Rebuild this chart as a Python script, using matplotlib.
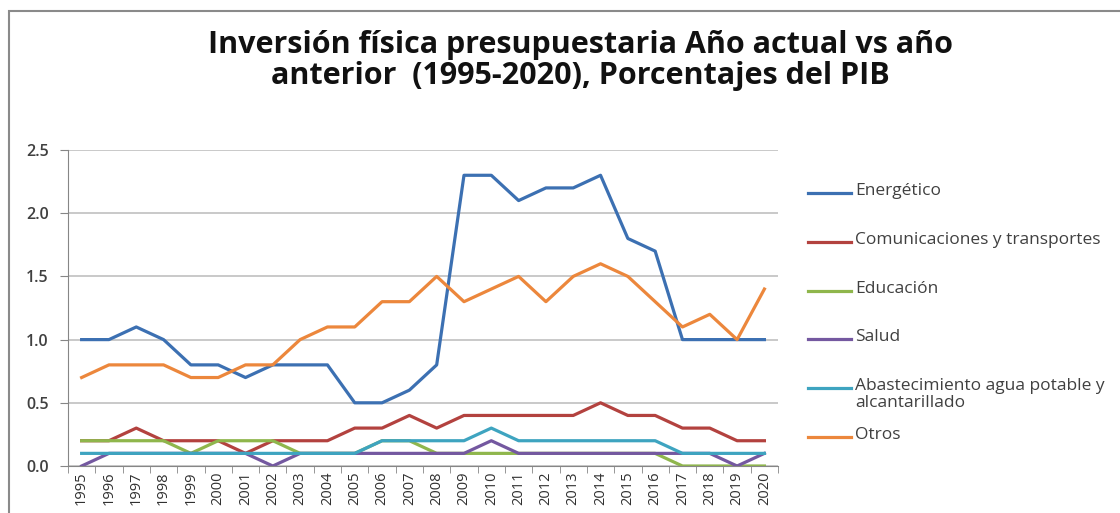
import matplotlib
matplotlib.use("Agg")
import matplotlib.pyplot as plt
from matplotlib.patches import Rectangle
from matplotlib.lines import Line2D

# Data (porcentajes del PIB)
years = [str(y) for y in range(1995, 2021)]

energetico = [1.0, 1.0, 1.1, 1.0, 0.8, 0.8, 0.7, 0.8, 0.8, 0.8, 0.5, 0.5, 0.6,
              0.8, 2.3, 2.3, 2.1, 2.2, 2.2, 2.3, 1.8, 1.7, 1.0, 1.0, 1.0, 1.0]
comunicaciones = [0.2, 0.2, 0.3, 0.2, 0.2, 0.2, 0.1, 0.2, 0.2, 0.2, 0.3, 0.3, 0.4,
                  0.3, 0.4, 0.4, 0.4, 0.4, 0.4, 0.5, 0.4, 0.4, 0.3, 0.3, 0.2, 0.2]
educacion = [0.2, 0.2, 0.2, 0.2, 0.1, 0.2, 0.2, 0.2, 0.1, 0.1, 0.1, 0.2, 0.2,
             0.1, 0.1, 0.1, 0.1, 0.1, 0.1, 0.1, 0.1, 0.1, 0.0, 0.0, 0.0, 0.0]
salud = [0.0, 0.1, 0.1, 0.1, 0.1, 0.1, 0.1, 0.0, 0.1, 0.1, 0.1, 0.1, 0.1,
         0.1, 0.1, 0.2, 0.1, 0.1, 0.1, 0.1, 0.1, 0.1, 0.1, 0.1, 0.0, 0.1]
agua = [0.1, 0.1, 0.1, 0.1, 0.1, 0.1, 0.1, 0.1, 0.1, 0.1, 0.1, 0.2, 0.2,
        0.2, 0.2, 0.3, 0.2, 0.2, 0.2, 0.2, 0.2, 0.2, 0.1, 0.1, 0.1, 0.1]
otros = [0.7, 0.8, 0.8, 0.8, 0.7, 0.7, 0.8, 0.8, 1.0, 1.1, 1.1, 1.3, 1.3,
         1.5, 1.3, 1.4, 1.5, 1.3, 1.5, 1.6, 1.5, 1.3, 1.1, 1.2, 1.0, 1.4]

series = [
    ("Energético", energetico, "#3c70b2"),
    ("Comunicaciones y transportes", comunicaciones, "#b3423f"),
    ("Educación", educacion, "#8fb64c"),
    ("Salud", salud, "#7458a0"),
    ("Abastecimiento agua potable y\nalcantarillado", agua, "#3ea4c0"),
    ("Otros", otros, "#ec873c"),
]

plt.rcParams["font.family"] = ["Open Sans", "DejaVu Sans"]
text_grey = "#404040"
W, H = 1120, 513

fig = plt.figure(figsize=(11.2, 5.13), dpi=100)

# outer chart border (cropped at right and bottom in the reference)
fig.patches.append(Rectangle((9 / W, -0.1), 1.2, 1 - 11 / H + 0.1,
                             transform=fig.transFigure, fill=False,
                             edgecolor="#8a8a8a", linewidth=1.5))

ax = fig.add_axes([0.0607, 0.0916, 0.634, 0.616])

x = list(range(len(years)))
for label, vals, color in series:
    ax.plot(x, vals, color=color, linewidth=2.3, label=label,
            solid_joinstyle="round")

ax.set_xlim(-0.5, len(years) - 0.5)
ax.set_ylim(0, 2.5)
ax.set_yticks([0, 0.5, 1.0, 1.5, 2.0, 2.5])
ax.set_yticklabels(["0.0", "0.5", "1.0", "1.5", "2.0", "2.5"], fontsize=11.5,
                   color=text_grey, fontweight="semibold")

ax.set_xticks(x)
ax.set_xticklabels(years, rotation=90, fontsize=10.5, color="#303030")
ax.set_xticks([i - 0.5 for i in range(len(years) + 1)], minor=True)
ax.tick_params(axis="x", which="major", length=0, pad=4)
ax.tick_params(axis="x", which="minor", length=5, color="#868686")
ax.tick_params(axis="y", length=6, color="#868686", pad=8)

ax.grid(axis="y", color="#c0c0c0", linewidth=1.2)
ax.set_axisbelow(True)
for side in ["top", "right"]:
    ax.spines[side].set_visible(False)
ax.spines["left"].set_color("#868686")
ax.spines["bottom"].set_color("#868686")

fig.text(0.518, 0.882, "Inversión física presupuestaria Año actual vs año\n"
         "anterior  (1995-2020), Porcentajes del PIB",
         ha="center", va="center", fontsize=22, fontweight="bold",
         linespacing=1.08, color="#111111")

# legend drawn Excel-style: marker aligned with the first line of each label
leg_top, leg_step = 193, 48.8
for i, (label, vals, color) in enumerate(series):
    yc = 1 - (leg_top + i * leg_step) / H
    fig.add_artist(Line2D([808 / W, 851 / W], [yc, yc], color=color,
                          linewidth=2.3, transform=fig.transFigure))
    fig.text(855 / W, yc + 10 / H, label, ha="left", va="top", fontsize=12.5,
             color=text_grey, linespacing=1.05)

fig.savefig("out.png", dpi=100)
